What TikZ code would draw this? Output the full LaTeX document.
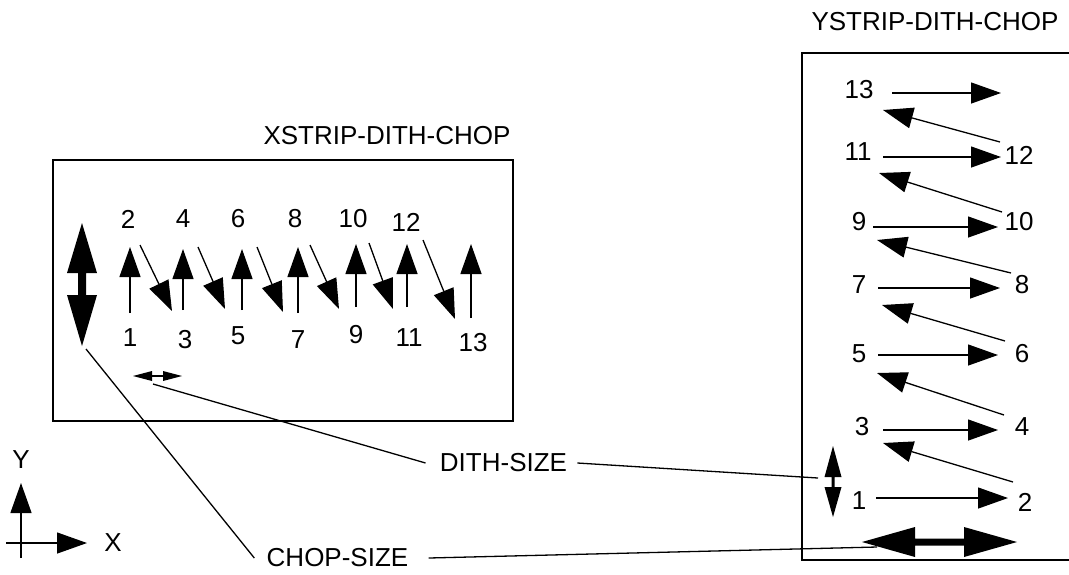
\documentclass[tikz,border=0pt]{standalone}
\usepackage{fontspec}
\setmainfont{Liberation Sans}
\usetikzlibrary{arrows.meta}
\begin{document}
\begin{tikzpicture}[x=0.5pt,y=-0.5pt,
  lbl/.style={inner sep=0pt, font=\fontsize{13}{15}\selectfont},
  arr/.style={line width=0.65pt, -{Triangle[length=15pt,width=10.5pt]}},
  thinline/.style={line width=0.65pt},
  frame/.style={line width=0.8pt},
  bigarrow/.style={fill=black}]
\useasboundingbox (0,0) rectangle (1069,574);

% frames
\draw[frame] (53,160) rectangle (513,421);
\draw[frame] (1069,53) -- (802,53) -- (802,560) -- (1069,560);

% titles
\node[lbl] (xtitle) at (387,136) {XSTRIP-DITH-CHOP};
\node[lbl] (ytitle) at (935,22) {YSTRIP-DITH-CHOP};

% ---------- left box: X strip ----------
\foreach \x/\b/\t in {130/313/247, 183/310/249, 242/310/249, 298/313/247, 356/307/244, 407/307/244, 471/318/244}
  \draw[arr] (\x,\b) -- (\x,\t);
\foreach \xa/\ya/\xb/\yb in {140/245/172/311, 198/247/225/309, 257/247/283/312, 310/245/339/309, 369/243/393/309, 423/240/455/319}
  \draw[arr] (\xa,\ya) -- (\xb,\yb);

\node[lbl] (l1) at (130,338) {1};
\node[lbl] (l3) at (185,340) {3};
\node[lbl] (l5) at (238,336) {5};
\node[lbl] (l7) at (298,340) {7};
\node[lbl] (l9) at (356,335) {9};
\node[lbl] (l11) at (409,338) {11};
\node[lbl] (l13) at (473,343) {13};
\node[lbl] (l2) at (128,219) {2};
\node[lbl] (l4) at (183,219) {4};
\node[lbl] (l6) at (238,219) {6};
\node[lbl] (l8) at (295,219) {8};
\node[lbl] (l10) at (353,219) {10};
\node[lbl] (l12) at (406,222) {12};

% chop arrow (vertical, big)
\fill[bigarrow] (82,223) -- (97,273) -- (86,273) -- (86,295) -- (97,295) -- (82,346)
  -- (67,295) -- (78,295) -- (78,273) -- (67,273) -- cycle;
% dith arrow (horizontal, small)
\fill[bigarrow] (133,376) -- (152,371) -- (152,375.2) -- (163,375.2) -- (163,371) -- (182,376)
  -- (163,381) -- (163,376.8) -- (152,376.8) -- (152,381) -- cycle;

% ---------- right box: Y strip ----------
\foreach \xa/\y/\xb in {892/93/1001, 883/157/1001, 873/227/998, 878/288/1000, 878/355/998, 883/430/998, 876/498/1008}
  \draw[arr] (\xa,\y) -- (\xb,\y);
\foreach \xa/\ya/\xb/\yb in {1000/142/883/110, 1002/212/879/173, 1011/273/877/240, 1005/341/882/305, 1004/415/877/373, 1013/482/883/443}
  \draw[arr] (\xa,\ya) -- (\xb,\yb);

\node[lbl] (r13) at (859,90) {13};
\node[lbl] (r11) at (858,152) {11};
\node[lbl] (r12) at (1019,155) {12};
\node[lbl] (r9) at (859,222) {9};
\node[lbl] (r10) at (1019,222) {10};
\node[lbl] (r7) at (859,285) {7};
\node[lbl] (r8) at (1022,285) {8};
\node[lbl] (r5) at (859,354) {5};
\node[lbl] (r6) at (1022,354) {6};
\node[lbl] (r3) at (862,427) {3};
\node[lbl] (r4) at (1022,427) {4};
\node[lbl] (r1) at (859,501) {1};
\node[lbl] (r2) at (1025,502) {2};

% dith arrow (vertical, small)
\fill[bigarrow] (833,446) -- (841.5,477) -- (834.5,477) -- (834.5,487) -- (841.5,487) -- (833,517)
  -- (824.5,487) -- (831.5,487) -- (831.5,477) -- (824.5,477) -- cycle;
% chop arrow (horizontal, big)
\fill[bigarrow] (862,542) -- (915,527) -- (915,538.5) -- (964,538.5) -- (964,527) -- (1017,542)
  -- (964,557) -- (964,545.5) -- (915,545.5) -- (915,557) -- cycle;

% ---------- labels and leader lines ----------
\node[lbl] (dith) at (503.5,463) {DITH-SIZE};
\node[lbl] (chop) at (337.5,558) {CHOP-SIZE};
\coordinate (ditL) at (153,384);
\coordinate (ditR) at (818,478);
\coordinate (chopL) at (86,349);
\coordinate (chopR) at (877,547);
\draw[thinline] (ditL) -- ([xshift=-7pt]dith.west);
\draw[thinline] ([xshift=5pt]dith.east) -- (ditR);
\draw[thinline] (chopL) -- ([xshift=-6pt]chop.west);
\draw[thinline] ([xshift=10pt]chop.east) -- (chopR);

% ---------- axes ----------
\coordinate (o1) at (21,558);
\coordinate (ytip) at (21,483);
\coordinate (o2) at (6,543);
\coordinate (xtip) at (87,543);
\draw[arr] (o1) -- (ytip);
\draw[arr] (o2) -- (xtip);
\node[lbl] (ylab) at (21,460) {Y};
\node[lbl] (xlab) at (113,543) {X};
\end{tikzpicture}
\end{document}
